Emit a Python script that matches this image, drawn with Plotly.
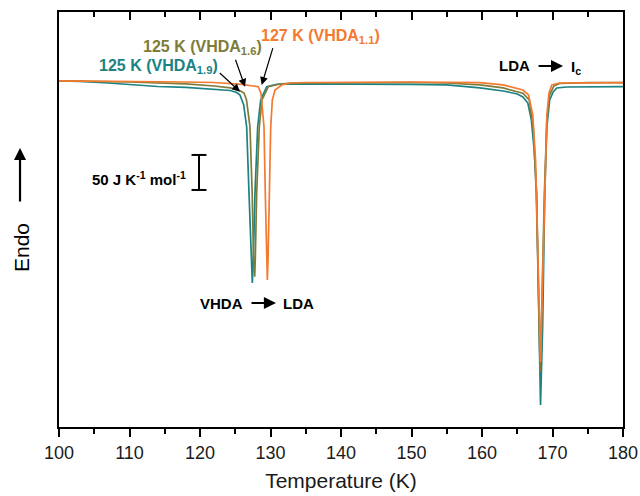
import plotly.graph_objects as go

# Heat flow (J K^-1 mol^-1, endo up, arbitrary offset) vs temperature (K)
T_19 = [100, 103, 107, 111, 114, 118, 122, 124.3, 125.2, 125.67, 126.2, 126.62, 126.95, 127.23, 127.42,
        127.56, 127.8, 128.18, 128.61, 129.46, 130.88, 133, 136, 140, 145, 150, 155, 159.7, 163, 165,
        165.8, 166.5, 167.0, 167.4, 167.75, 168.1, 168.3, 168.6, 168.9, 169.2, 169.6, 170.1, 170.6, 172, 176, 180]
Y_19 = [-1.4, -2.1, -4.3, -7.1, -9.3, -10.7, -12.9, -15.0, -17.9, -21.4, -35.7, -67.1, -161.4, -257.1, -290.0,
        -257.1, -161.4, -67.1, -28.6, -9.6, -6.1, -5.7, -5.7, -5.7, -6.4, -6.4, -7.1, -11.4, -15.7, -20.0,
        -24.3, -32.9, -57.1, -100.0, -161.4, -352.9, -464.3, -352.9, -161.4, -67.1, -28.6, -17.1, -11.4, -10.0, -9.6, -9.6]

T_16 = [100, 110, 118, 122, 124.3, 125.5, 126.24, 126.6, 127.09, 127.4, 127.6, 127.76,
        127.84, 128.04, 128.41, 128.79, 129.69, 131.35, 133, 140, 150, 155, 159.7, 163, 165.8,
        166.7, 167.3, 167.7, 168.05, 168.25, 168.5, 168.85, 169.2, 169.6, 170.2, 171, 175, 180]
Y_16 = [-1.4, -2.9, -5.7, -8.6, -11.4, -14.3, -18.6, -28.6, -67.1, -161.4, -257.1, -281.0,
        -257.1, -161.4, -67.1, -28.6, -9.6, -5.7, -4.3, -3.6, -3.6, -4.3, -7.1, -11.4, -19.0,
        -28.6, -71.4, -161.4, -314.3, -417.0, -314.3, -161.4, -57.1, -21.4, -8.6, -5.0, -3.9, -3.9]

T_11 = [100, 110, 118, 122, 124.3, 126, 127.5, 128.26, 128.65, 129.08, 129.26, 129.46, 129.55,
        129.65, 129.79, 130.03, 130.26, 130.64, 131.59, 132.8, 135, 145, 150, 155, 159.7, 163, 165.8,
        166.6, 167.2, 167.6, 167.95, 168.3, 168.6, 168.9, 169.2, 169.5, 169.9, 171, 180]
Y_11 = [-1.4, -1.9, -2.9, -3.6, -4.7, -6.4, -8.6, -9.6, -19.0, -67.1, -161.4, -257.1, -285.7,
        -257.1, -161.4, -67.1, -28.6, -14.3, -7.1, -4.3, -3.6, -2.9, -2.9, -3.3, -3.9, -7.1, -14.3,
        -21.4, -50.0, -114.3, -242.9, -402.9, -285.7, -142.9, -50.0, -18.6, -7.1, -4.3, -3.9]

X_RANGE = [100, 180]
Y_RANGE = [-495.7, 97.1]
X_TICKS = [100, 110, 120, 130, 140, 150, 160, 170, 180]
X_MINOR = [105, 115, 125, 135, 145, 155, 165, 175]
SCALE_BAR = 50  # J K^-1 mol^-1
SCALE_TOP = -107.1
SCALE_X = 119.86

TEAL = "#1c8282"
OLIVE = "#7d7c3a"
ORANGE = "#f47a30"
FONT = "Liberation Sans, Arial, sans-serif"

fig = go.Figure()
for T, Y, c in [(T_19, Y_19, TEAL), (T_16, Y_16, OLIVE), (T_11, Y_11, ORANGE)]:
    fig.add_trace(go.Scatter(x=T, y=Y, mode="lines", line=dict(color=c, width=1.7),
                             showlegend=False, hoverinfo="skip"))
# dummy trace for top axis
fig.add_trace(go.Scatter(x=X_RANGE, y=[None, None], xaxis="x2", mode="lines", showlegend=False, hoverinfo="skip"))

fig.update_layout(
    width=640, height=496,
    margin=dict(l=59, r=17, t=12, b=69),
    paper_bgcolor="white", plot_bgcolor="white",
    font=dict(family=FONT, color="black"),
    xaxis=dict(range=X_RANGE, tickvals=X_TICKS, ticks="outside", ticklen=8, tickwidth=1.5,
               tickcolor="black", showline=True, linecolor="black", linewidth=2, mirror=True,
               showgrid=False, zeroline=False, automargin=False,
               tickfont=dict(size=18, color="#1a1a1a"),
               minor=dict(tickvals=X_MINOR, ticks="outside", ticklen=5, tickwidth=1.5, tickcolor="black"),
               title=dict(text="Temperature (K)", font=dict(size=21, color="#1a1a1a"), standoff=12)),
    xaxis2=dict(range=X_RANGE, overlaying="x", side="top", anchor="y", tickvals=X_TICKS,
                ticks="inside", ticklen=8, tickwidth=1.5, tickcolor="black", showticklabels=False,
                showgrid=False, zeroline=False, automargin=False,
                minor=dict(tickvals=X_MINOR, ticks="inside", ticklen=5, tickwidth=1.5, tickcolor="black")),
    yaxis=dict(range=Y_RANGE, showticklabels=False, ticks="", showline=True, linecolor="black",
               linewidth=2, mirror=True, showgrid=False, zeroline=False, automargin=False),
)

# scale bar
cap = 1.06
fig.add_shape(type="line", x0=SCALE_X, x1=SCALE_X, y0=SCALE_TOP, y1=SCALE_TOP - SCALE_BAR,
              line=dict(color="black", width=2))
for yy in [SCALE_TOP, SCALE_TOP - SCALE_BAR]:
    fig.add_shape(type="line", x0=SCALE_X - cap, x1=SCALE_X + cap, y0=yy, y1=yy,
                  line=dict(color="black", width=2))

def txt(x, y, s, color="black", size=15, xanchor="center", bold=True):
    fig.add_annotation(x=x, y=y, text=f"<b>{s}</b>" if bold else s, showarrow=False,
                       font=dict(size=size, color=color, family=FONT), xanchor=xanchor, yanchor="middle")

def arrow(x, y, ax, ay, width=1.2, size=1.3):
    fig.add_annotation(x=x, y=y, ax=ax, ay=ay, text="", showarrow=True, arrowhead=2,
                       arrowsize=size, arrowwidth=width, arrowcolor="black", standoff=0)

txt(SCALE_X - 1.6, -141.4, "50 J K<sup>-1</sup> mol<sup>-1</sup>", xanchor="right")

txt(114.11, 18.6, "125 K (VHDA<sub>1.9</sub>)", color=TEAL, size=16)
txt(120.35, 45.7, "125 K (VHDA<sub>1.6</sub>)", color=OLIVE, size=16)
txt(137.09, 61.9, "127 K (VHDA<sub>1.1</sub>)", color=ORANGE, size=16)
arrow(125.67, -16.7, -21.7, -20)
arrow(126.38, -9.6, -10, -28.4)
arrow(128.75, -7.1, 11.6, -38.3)

txt(164.54, 20, "LDA")
arrow(171.5, 20, -26, 0, width=2.2, size=1.1)
txt(173.4, 18, "I<sub>c</sub>")

txt(122.98, -318.6, "VHDA")
arrow(130.78, -318.6, -26, 0, width=2.2, size=1.1)
txt(133.97, -318.6, "LDA")

fig.add_annotation(xref="paper", yref="paper", x=-0.0674, y=0.4337, text="Endo", textangle=-90,
                   xanchor="center", yanchor="middle",
                   showarrow=False, font=dict(size=21, color="black", family=FONT))
fig.add_annotation(xref="paper", yref="paper", x=-0.0691, y=0.6723, ax=0, ay=55, text="",
                   showarrow=True, arrowhead=2, arrowsize=1.1, arrowwidth=2.2, arrowcolor="black", standoff=0)

fig.write_html("out.html", post_script="document.body.style.margin='0';",
               config={"displayModeBar": False})
